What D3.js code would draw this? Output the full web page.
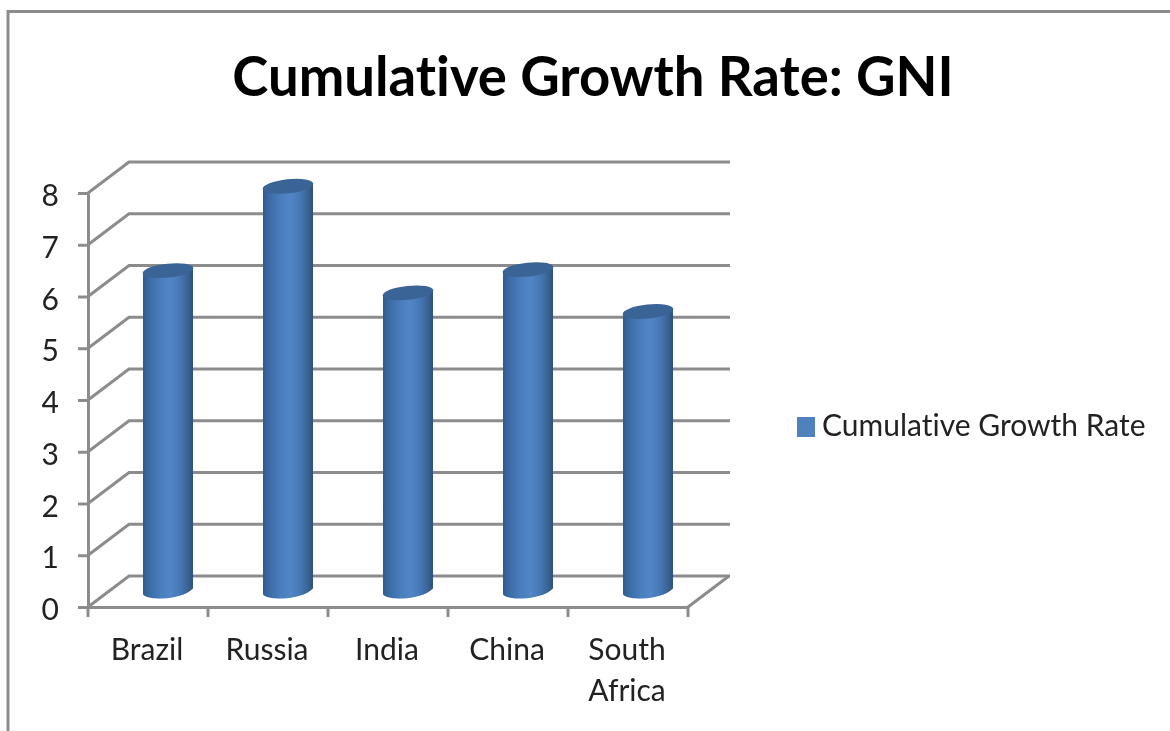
<!DOCTYPE html>
<html><head><meta charset="utf-8">
<script src="https://cdn.jsdelivr.net/npm/d3@7/dist/d3.min.js"></script>
<style>html,body{margin:0;padding:0;background:#fff}svg{display:block;filter:blur(0.45px)}text{font-family:Lato,"Noto Sans",sans-serif;font-variant-ligatures:none}</style>
</head><body><div id="c"></div>
<script>
const titleText = "Cumulative Growth Rate: GNI";
const legendText = "Cumulative Growth Rate";
const categories = ["Brazil","Russia","India","China","South Africa"];
const values = [6.2,7.83,5.77,6.22,5.41];
const yTicks = [0,1,2,3,4,5,6,7,8];

const W=1170,H=731;
const svg=d3.select("#c").append("svg").attr("width",W).attr("height",H);
const defs=svg.append("defs");
const grad=defs.append("linearGradient").attr("id","cyl").attr("x1",0).attr("x2",1).attr("y1",0).attr("y2",0);
[[0,"#2f5a8c"],[0.12,"#3b6ba6"],[0.35,"#4a7dbd"],[0.55,"#5186c6"],[0.75,"#4577b4"],[0.92,"#37608f"],[1,"#2d4f78"]]
 .forEach(([o,c])=>grad.append("stop").attr("offset",o).attr("stop-color",c));

const gray="#8c8c8c", ink="#222";
const frame=d3.path();frame.moveTo(8,H);frame.lineTo(8,11.5);frame.lineTo(W,11.5);
svg.append("path").attr("d",frame).attr("fill","none").attr("stroke",gray).attr("stroke-width",3);

const x=d3.scaleBand().domain(categories).range([88,688]);
const y=d3.scaleLinear().domain([0,8]).range([607,193]);
const depthX=41, depthY=-31;

const grid=svg.append("g").attr("fill","none").attr("stroke",gray).attr("stroke-width",3);
yTicks.forEach(t=>{
  const p=d3.path();
  p.moveTo(88,y(t));p.lineTo(88+depthX,y(t)+depthY);p.lineTo(688+depthX+1,y(t)+depthY);
  grid.append("path").attr("d",p);
});
const floor=d3.path();floor.moveTo(688+depthX,y(0)+depthY);floor.lineTo(688,y(0));
grid.append("path").attr("d",floor);

const yAxis=svg.append("g").attr("transform","translate(88,0)").call(d3.axisLeft(y).tickValues(yTicks).tickSize(0).tickPadding(29).tickFormat(d3.format("d")));
yAxis.select(".domain").attr("stroke",gray).attr("stroke-width",3);
yAxis.selectAll(".tick line").attr("x2",-10).attr("stroke",gray).attr("stroke-width",3);
yAxis.selectAll("text").attr("font-size",30).attr("fill",ink).attr("dy","0.42em").style("font-family","Lato");

const xAxis=svg.append("g").attr("transform",`translate(0,${y(0)})`).call(d3.axisBottom(x).tickSize(0).tickFormat(""));
xAxis.select(".domain").attr("stroke",gray).attr("stroke-width",3);
xAxis.selectAll(".tick").remove();
xAxis.selectAll("line.cat").data([...categories.map(c=>x(c)),x.range()[1]]).join("line").attr("class","cat")
  .attr("x1",d=>d).attr("x2",d=>d).attr("y1",0).attr("y2",10).attr("stroke",gray).attr("stroke-width",3);

categories.forEach(c=>{
  const words=c.split(" ");
  const t=svg.append("text").attr("text-anchor","middle").attr("font-size",30).attr("fill",ink);
  const cx=x(c)+x.bandwidth()/2-1;
  words.forEach((w,i)=>t.append("tspan").attr("x",cx).attr("y",660+i*41).text(w));
});

const rx=25, ry=7, tilt=-6;
const zeroShift=depthY/2;
const bars=svg.append("g");
categories.forEach((c,i)=>{
  const cx=x(c)+x.bandwidth()/2+20;
  const yb=y(0)+zeroShift, yt=y(values[i])+zeroShift;
  const p=d3.path();
  p.moveTo(cx-rx,yt+3);
  p.lineTo(cx-rx,yb+3);
  p.bezierCurveTo(cx-rx+6,yb+10,cx+rx-10,yb+8,cx+rx,yb-3);
  p.lineTo(cx+rx,yt-3);
  p.closePath();
  bars.append("path").attr("d",p).attr("fill","url(#cyl)");
  bars.append("ellipse").attr("cx",cx).attr("cy",yt).attr("rx",rx+0.5).attr("ry",ry)
    .attr("transform",`rotate(${tilt} ${cx} ${yt})`).attr("fill","#3a6496");
});

svg.append("text").attr("x",593).attr("y",96).attr("text-anchor","middle").attr("font-size",54.5).attr("font-weight",700).attr("fill","#000").text(titleText);

svg.append("rect").attr("x",797).attr("y",417).attr("width",18).attr("height",20).attr("fill","#4f81bd");
svg.append("text").attr("x",822).attr("y",436).attr("font-size",30).attr("fill",ink).text(legendText);
</script></body></html>
